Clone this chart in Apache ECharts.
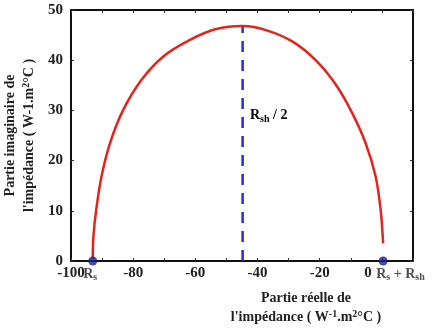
<!DOCTYPE html>
<html>
<head>
<meta charset="utf-8">
<script src="https://cdn.jsdelivr.net/npm/echarts@6/dist/echarts.min.js"></script>
<style>
  html, body { margin: 0; padding: 0; background: #fff; }
  #chart { width: 437px; height: 328px; }
</style>
</head>
<body>
<div id="chart"></div>
<script>
// values
const curveX = [-93.0, -92.8, -91.9, -90.2, -87.5, -83.2, -77.3, -70.4, -61.9, -53.3, -44.8, -37.3, -28.7, -21.3, -14.8, -9.5, -5.2, -2.0, -0.4, 0.4];
const curveY = [0.5, 4.8, 10.2, 16.8, 23.4, 30.1, 36.1, 40.7, 44.0, 46.2, 46.8, 46.0, 43.7, 40.0, 35.1, 29.4, 23.4, 16.8, 10.2, 3.5];
const dotX = [-93.0, 0.4];
const dotY = [0, 0];
const dotLabels = ['{r|R}{sub|s}', '{r|R}{sub|s}{r| + R}{sub|sh}'];
const halfX = [-44.8, -44.8];
const halfY = [0, 46.8];
const xTicks = { min: -100, max: 10, step: 10, labelStep: 20 };
const yTicks = { min: 0, max: 50, step: 10 };

const serif = '"Liberation Serif", "DejaVu Serif", serif';
const rich = {
  r: { fontFamily: serif, fontWeight: 'bold', fontSize: 14, color: '#222', lineHeight: 19 },
  b: { fontFamily: serif, fontWeight: 'bold', fontSize: 14, color: '#222', lineHeight: 19 },
  sub: { fontFamily: serif, fontWeight: 'bold', fontSize: 10, color: '#222', padding: [7, 0, 0, 0], lineHeight: 19 },
  sup: { fontFamily: serif, fontWeight: 'bold', fontSize: 10, color: '#222', padding: [0, 0, 6, 0], lineHeight: 19 }
};

const chart = echarts.init(document.getElementById('chart'));

const axisBase = {
  type: 'value',
  axisLine: { show: true, onZero: false, lineStyle: { color: '#111', width: 2 } },
  axisTick: { show: true, inside: true, length: 3, lineStyle: { color: '#333', width: 1 } },
  splitLine: { show: false },
  axisLabel: { fontFamily: serif, fontWeight: 'bold', fontSize: 15, color: '#222' }
};

const tickFont = { fontFamily: serif, fontWeight: 'bold', fontSize: 15, color: '#222' };

const option = {
  animation: false,
  grid: { left: 71, right: 24, top: 10, bottom: 67, outerBoundsMode: 'none', containLabel: false },
  xAxis: [
    {
      ...axisBase,
      min: xTicks.min, max: xTicks.max, interval: xTicks.step,
      axisLabel: {
        ...axisBase.axisLabel,
        margin: 5,
        formatter: v => {
          if (v % xTicks.labelStep !== 0 || v > 0) return '';
          return v === 0 ? '{z|0}' : String(v);
        },
        rich: { z: { ...tickFont, padding: [0, 28, 0, 0] } }
      },
      name: '{b|Partie réelle de}\n{b|l\'impédance ( W}{sup|-1}{b|.m}{sup|2}{b|°C )}',
      nameLocation: 'middle',
      nameGap: 28,
      nameMoveOverlap: false,
      nameTextStyle: { rich: rich, padding: [0, 0, 0, 128], align: 'center' }
    },
    {
      ...axisBase,
      position: 'top',
      min: xTicks.min, max: xTicks.max, interval: xTicks.step,
      axisLabel: { show: false }
    }
  ],
  yAxis: [
    {
      ...axisBase,
      min: yTicks.min, max: yTicks.max, interval: yTicks.step,
      axisLabel: { ...axisBase.axisLabel, margin: 8 },
      name: '{b|Partie imaginaire de}\n{b|l\'impédance ( W-1.m}{sup|2}{b|°C )}',
      nameLocation: 'middle',
      nameGap: 32,
      nameMoveOverlap: false,
      nameTextStyle: { rich: rich, align: 'center' }
    },
    {
      ...axisBase,
      position: 'right',
      min: yTicks.min, max: yTicks.max, interval: yTicks.step,
      axisLabel: { show: false }
    }
  ],
  graphic: [
    {
      type: 'text',
      left: 250,
      top: 107,
      style: { text: '{r|R}{sub|sh}{r| / 2}', rich: rich }
    }
  ],
  series: [
    {
      type: 'line',
      data: curveX.map((x, i) => [x, curveY[i]]),
      smooth: 0.3,
      showSymbol: false,
      lineStyle: { color: '#e3231c', width: 2.5 },
      z: 3
    },
    {
      type: 'line',
      data: halfX.map((x, i) => [x, halfY[i]]),
      showSymbol: false,
      lineStyle: { color: '#2230d0', width: 2.5, type: [11, 8] },
      z: 2
    },
    {
      type: 'scatter',
      data: dotX.map((x, i) => ({
        value: [x, dotY[i]],
        label: {
          show: true,
          formatter: dotLabels[i],
          position: i === 0 ? [-5, 8] : [-2.5, 8],
          align: 'left',
          verticalAlign: 'top',
          rich: rich
        }
      })),
      symbolSize: 9,
      itemStyle: { color: '#1c1f8e' },
      clip: false,
      z: 4
    }
  ]
};

chart.setOption(option);
</script>
</body>
</html>
